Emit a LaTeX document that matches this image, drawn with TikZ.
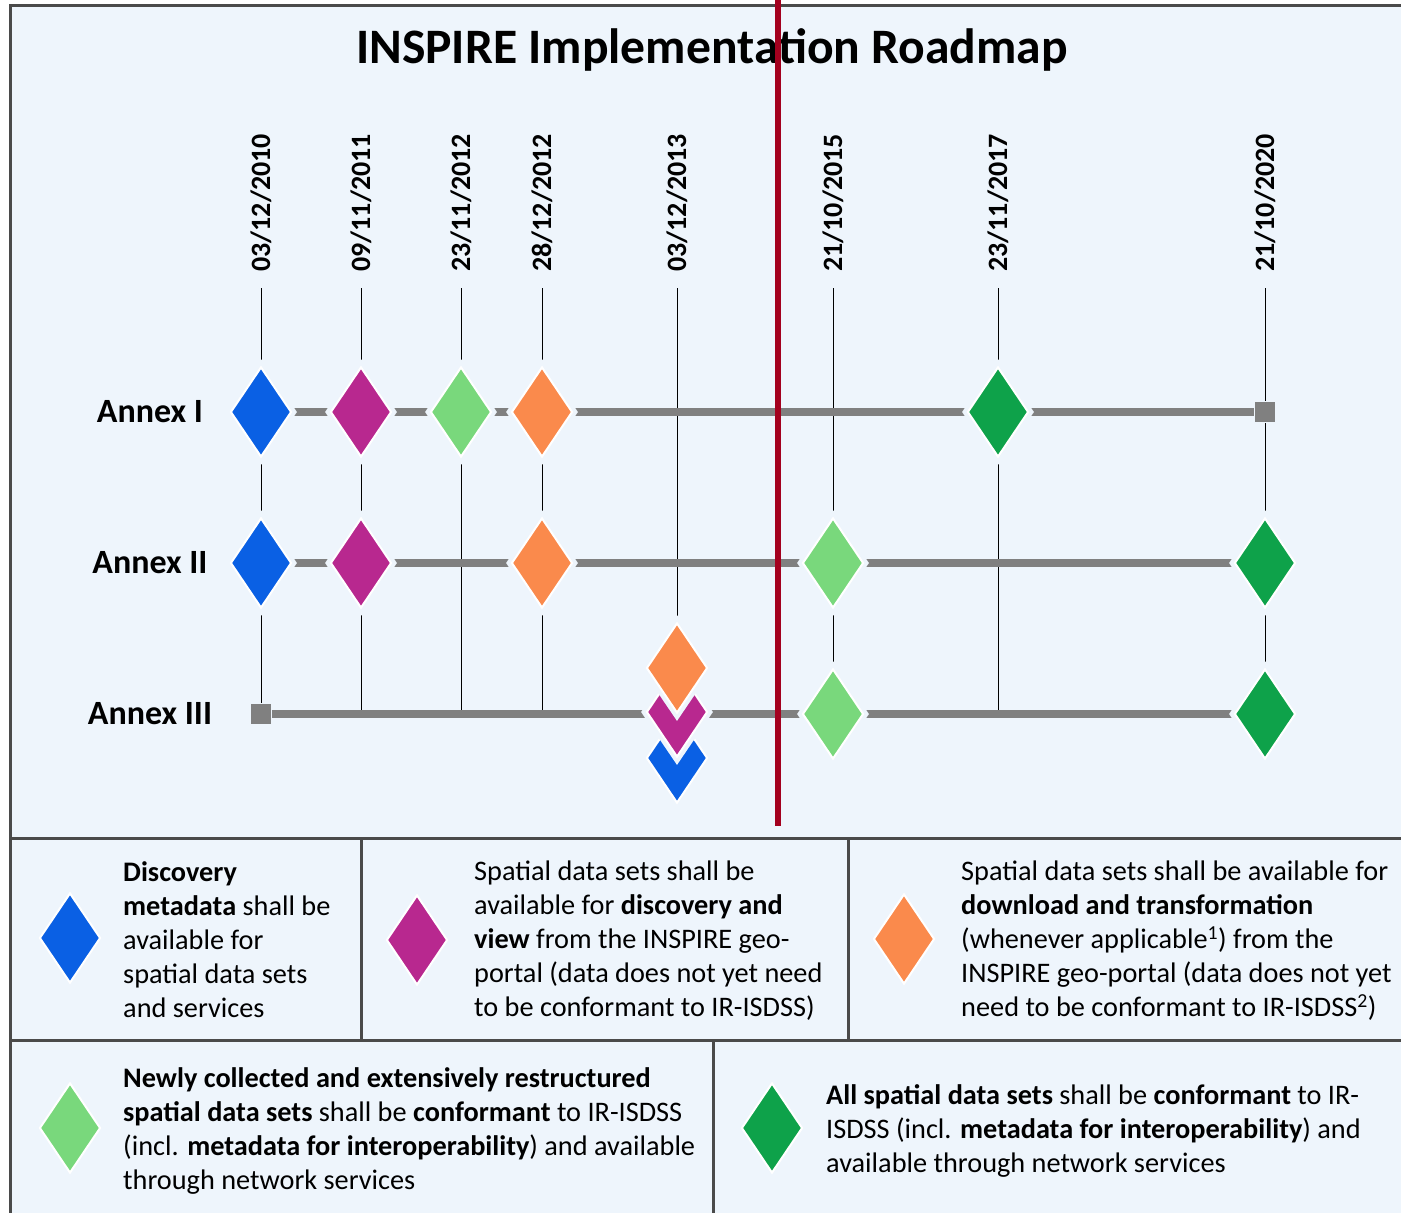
\documentclass[tikz,border=0pt]{standalone}
\usepackage{fontspec}
\setmainfont{Carlito}
\usetikzlibrary{shapes.geometric}
\definecolor{bgc}{HTML}{EEF5FC}
\definecolor{frm}{HTML}{4A4A4A}
\definecolor{cblue}{HTML}{0A60E4}
\definecolor{cmag}{HTML}{B8288F}
\definecolor{clgr}{HTML}{79D87C}
\definecolor{cora}{HTML}{FA8A4C}
\definecolor{cdgr}{HTML}{0EA24A}
\definecolor{lgray}{HTML}{808080}
\definecolor{thin}{HTML}{505050}
\definecolor{redl}{HTML}{A3001E}
\pgfdeclarelayer{bottom}
\pgfdeclarelayer{background}
\pgfsetlayers{bottom,background,main}
\tikzset{
  dmdst/.style={diamond,minimum width=61pt,minimum height=90pt,inner sep=0pt,draw=white,line width=2pt},
  dgap/.style={diamond,minimum width=72pt,minimum height=106pt,inner sep=0pt,fill=bgc},
  sqm/.style={rectangle,minimum size=20pt,inner sep=0pt,fill=lgray},
  sqgap/.style={rectangle,minimum size=22pt,inner sep=0pt,fill=bgc},
  tline/.style={line width=8pt,lgray},
  vline/.style={line width=1.5pt,thin},
  datelbl/.style={rotate=90,anchor=west,inner sep=0pt,font=\fontsize{28}{30}\selectfont\bfseries},
  annex/.style={inner sep=0pt,font=\fontsize{34}{36}\selectfont\bfseries},
  legtxt/.style={anchor=north west,align=left,inner sep=0pt,font=\fontsize{28.3}{34}\selectfont},
  frame/.style={line width=3pt,frm},
}
\newcommand\dmd[4]{%
  \node[dgap] at (#2,#3) {};
  \node[dmdst,fill=#4] (#1) at (#2,#3) {};
}
\begin{document}
\begin{tikzpicture}[x=1pt,y=-1pt]
\useasboundingbox (0,0) rectangle (1401,1213);
\begin{pgfonlayer}{bottom}
  \clip (0,0) rectangle (1401,1213);
  \fill[white] (0,0) rectangle (1401,1213);
  \fill[bgc] (10,5) rectangle (1420,1230);
  \draw[frame] (10,5) rectangle (1420,1230);
  \draw[frame] (10,838) -- (1420,838);
  \draw[frame] (10,1040) -- (1420,1040);
  \draw[frame] (361,838) -- (361,1040);
  \draw[frame] (848,838) -- (848,1040);
  \draw[frame] (713,1040) -- (713,1230);
\end{pgfonlayer}

% title
\node[inner sep=0pt,font=\fontsize{49.6}{52}\selectfont\bfseries] (title) at (712,50) {INSPIRE Implementation Roadmap};

% dates
\node[datelbl] (d1) at (261,272) {03/12/2010};
\node[datelbl] (d2) at (361,272) {09/11/2011};
\node[datelbl] (d3) at (461,272) {23/11/2012};
\node[datelbl] (d4) at (542,272) {28/12/2012};
\node[datelbl] (d5) at (677,272) {03/12/2013};
\node[datelbl] (d6) at (833,272) {21/10/2015};
\node[datelbl] (d7) at (998,272) {23/11/2017};
\node[datelbl] (d8) at (1265,272) {21/10/2020};
\foreach \i/\x in {1/261,2/361,3/461,4/542,5/677,6/833,7/998,8/1265}
  \coordinate (t\i) at (\x,288);

% annex labels
\node[annex] (an1) at (150,412) {Annex I};
\node[annex] (an2) at (150,563) {Annex II};
\node[annex] (an3) at (150,714) {Annex III};

% row end markers and crossing points
\node[sqgap] at (1265,412) {};
\node[sqm] (a1end) at (1265,412) {};
\node[sqgap] at (261,714) {};
\node[sqm] (a3start) at (261,714) {};
\coordinate (x2) at (361,714);
\coordinate (x3) at (461,714);
\coordinate (x4) at (542,714);
\coordinate (x7) at (998,714);

% Annex I
\dmd{a1b}{261}{412}{cblue}
\dmd{a1m}{361}{412}{cmag}
\dmd{a1l}{461}{412}{clgr}
\dmd{a1o}{542}{412}{cora}
\dmd{a1d}{998}{412}{cdgr}
% Annex II
\dmd{a2b}{261}{563}{cblue}
\dmd{a2m}{361}{563}{cmag}
\dmd{a2o}{542}{563}{cora}
\dmd{a2l}{833}{563}{clgr}
\dmd{a2d}{1265}{563}{cdgr}
% Annex III
\dmd{a3b}{677}{758}{cblue}
\dmd{a3m}{677}{712}{cmag}
\dmd{a3o}{677}{668}{cora}
\dmd{a3l}{833}{714}{clgr}
\dmd{a3d}{1265}{714}{cdgr}

\begin{pgfonlayer}{background}
  \draw[vline] (t1) -- (a3start.center);
  \draw[vline] (t2) -- (x2);
  \draw[vline] (t3) -- (x3);
  \draw[vline] (t4) -- (x4);
  \draw[vline] (t5) -- (a3o.center);
  \draw[vline] (t6) -- (a3l.center);
  \draw[vline] (t7) -- (x7);
  \draw[vline] (t8) -- (a3d.center);
  \draw[tline] (a1b.center) -- (a1end.center);
  \draw[tline] (a2b.center) -- (a2d.center);
  \draw[tline] (a3start.center) -- (a3d.center);
\end{pgfonlayer}

% legend
\node[dmdst,fill=cblue] (l1) at (70,938) {};
\node[legtxt] (lt1) at (123,861) {\textbf{Discovery}\\\textbf{metadata} shall be\\available for\\spatial data sets\\and services};
\node[dmdst,fill=cmag] (l2) at (417,940) {};
\node[legtxt] (lt2) at (474,861) {Spatial data sets shall be\\available for \textbf{discovery and}\\\textbf{view} from the INSPIRE geo-\\portal (data does not yet need\\to be conformant to IR-ISDSS)};
\node[dmdst,fill=cora] (l3) at (904,939) {};
\node[legtxt] (lt3) at (961,861) {Spatial data sets shall be available for\\\textbf{download and transformation}\\(whenever applicable\textsuperscript{1}) from the\\INSPIRE geo-portal (data does not yet\\need to be conformant to IR-ISDSS\textsuperscript{2})};
\node[dmdst,fill=clgr] (l4) at (70,1128) {};
\node[legtxt] (lt4) at (123,1067) {\textbf{Newly collected and extensively restructured}\\\textbf{spatial data sets} shall be \textbf{conformant} to IR-ISDSS\\(incl. \textbf{metadata for interoperability}) and available\\through network services};
\node[dmdst,fill=cdgr] (l5) at (772,1128) {};
\node[legtxt] (lt5) at (826,1084) {\textbf{All spatial data sets} shall be \textbf{conformant} to IR-\\ISDSS (incl. \textbf{metadata for interoperability}) and\\available through network services};

% red marker line
\coordinate (rtop) at (778,0);
\coordinate (rbot) at (778,826);
\draw[line width=6pt,redl] (rtop) -- (rbot);
\end{tikzpicture}
\end{document}
